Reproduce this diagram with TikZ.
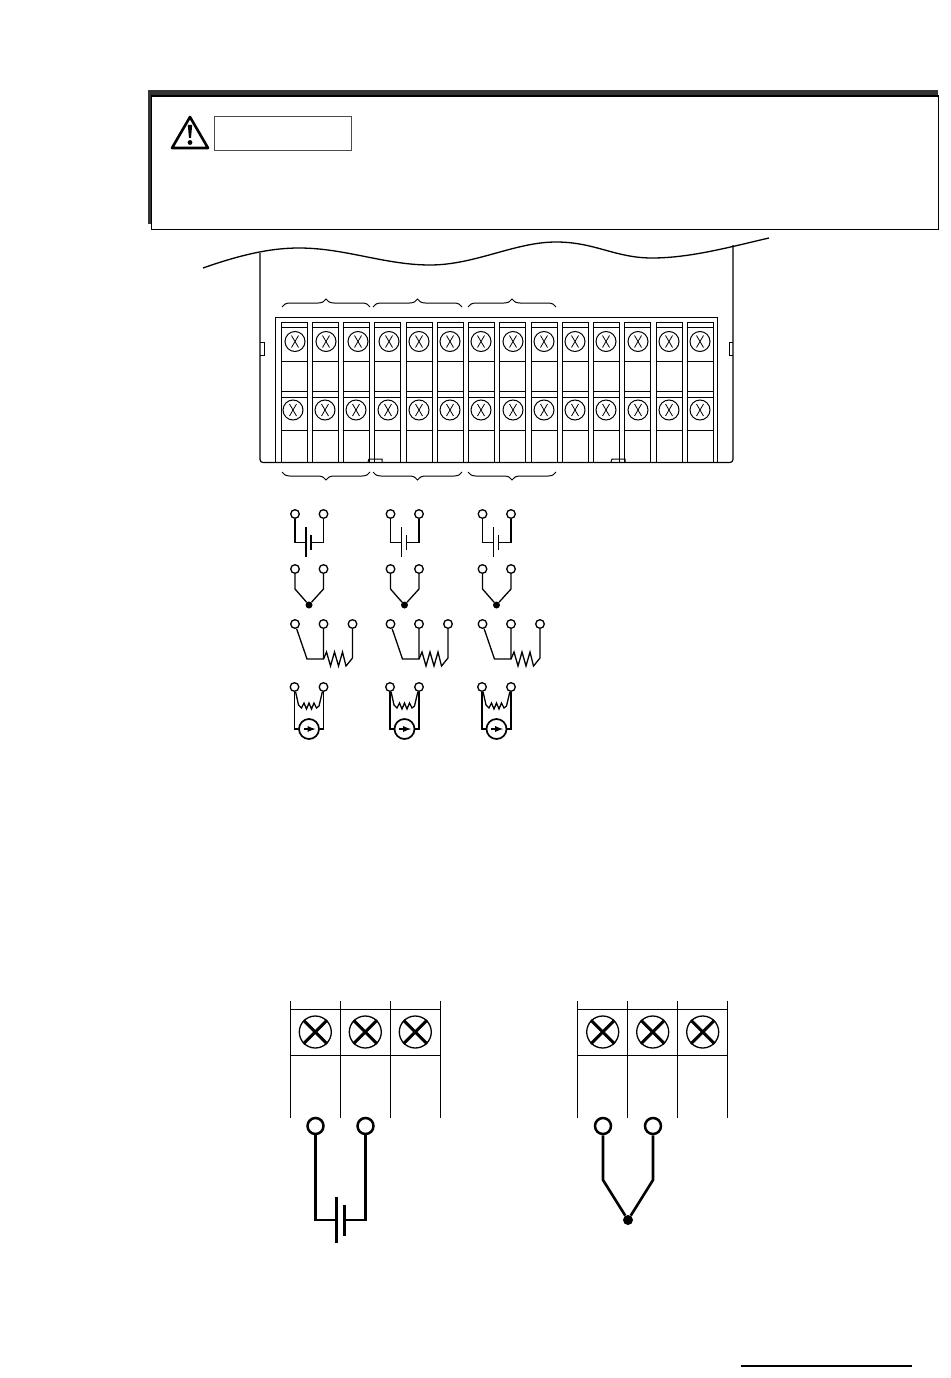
\documentclass[tikz,border=0pt]{standalone}
\usetikzlibrary{calc}
\usetikzlibrary{decorations.pathreplacing}
\usetikzlibrary{arrows}
\tikzset{
    ringsm/.style={circle, draw, line width=1.3pt, minimum size=8.6pt, inner sep=0pt, fill=white},
    ringbig/.style={circle, draw, line width=2.5pt, minimum size=16pt, inner sep=0pt, fill=white},
    screwsm/.style={circle, draw, line width=1pt, minimum size=20pt, inner sep=0pt},
    screwbig/.style={circle, draw, line width=1.3pt, minimum size=32pt, inner sep=0pt},
    wire/.style={line width=1.3pt},
    wirebig/.style={line width=2.6pt},
    termline/.style={line width=1pt},
    bracket/.style={decorate, decoration={brace, amplitude=8pt}, line width=1pt}
}
\begin{document}
\begin{tikzpicture}[x=1pt, y=-1pt]
    \useasboundingbox (0,0) rectangle (950,1378);
    % caution box
    \fill[black!80] (148,90) rectangle (938,95);
    \fill[black!80] (148,90) rectangle (151,224);
    \node[draw, line width=1.2pt, fill=white, minimum width=787pt, minimum height=133pt,
        inner sep=0pt, anchor=north west] (cautionbox) at (151,95.5) {};
    \node[draw=black!70, line width=1.2pt, minimum width=137pt, minimum height=34pt,
        inner sep=0pt, anchor=north west] (cautionlabel) at (214,116) {};
    \coordinate (tritop) at (190,117);
    \draw[line width=2.6pt, line join=round] (tritop) -- (172,148) -- (208,148) -- cycle;
    \fill (187.8,125) -- (192.2,125) -- (191,138) -- (189,138) -- cycle;
    \fill (190,142.5) circle (2.4pt);
    % housing
    \draw[line width=1.3pt] (203,268) .. controls (240,255) and (270,248) .. (299,248)
        .. controls (345,248) and (385,265) .. (430,265)
        .. controls (475,265) and (515,242) .. (556,242)
        .. controls (595,242) and (615,258) .. (652,258)
        .. controls (690,258) and (730,247) .. (769,238);
    \draw[line width=1.2pt, rounded corners=3pt] (260,253) -- (260,462.5) -- (733,462.5) -- (733,245);
    \draw[line width=1pt] (260,342) -- (264,342) -- (264,355) -- (260,355);
    \draw[line width=1pt] (733,342) -- (729,342) -- (729,355) -- (733,355);
    \draw[line width=1pt] (368,462) -- (369,459) -- (382,459) -- (382,462);
    \draw[line width=1pt] (611,462) -- (612,459) -- (625,459) -- (625,462);
    \draw[line width=1.2pt] (275.5,462) -- (275.5,317.5) -- (717.5,317.5) -- (717.5,462);
    % terminals
    \foreach \i in {0,...,13} {
        \pgfmathsetmacro{\xl}{281+31.25*\i}
        \pgfmathsetmacro{\xr}{\xl+26}
        \draw[termline] (\xl,462) -- (\xl,322) -- (\xr,322) -- (\xr,462);
        \draw[termline] (\xl,327) -- (\xr,327);
        \draw[termline] (\xl,361) -- (\xr,361);
        \draw[termline] (\xl,391) -- (\xr,391);
        \draw[termline] (\xl,397) -- (\xr,397);
        \draw[termline] (\xl,430) -- (\xr,430);
    }
    \foreach \n/\xa/\xb in {1/295/293, 2/326/325, 3/358/356, 4/389/388, 5/419/419, 6/450/450, 7/481/481,
        8/513/513, 9/544/544, 10/575/575, 11/606/606, 12/638/638, 13/669/669, 14/700/700} {
        \node[screwsm] (top\n) at (\xa,341.5) {};
        \node[screwsm] (bot\n) at (\xb,410) {};
        \draw[line width=.8pt] ($(top\n)+(-3.5,-6)$) -- ($(top\n)+(3.5,6)$);
        \draw[line width=.8pt] ($(top\n)+(3.5,-6)$) -- ($(top\n)+(-3.5,6)$);
        \draw[line width=.8pt] ($(bot\n)+(-3.5,-6)$) -- ($(bot\n)+(3.5,6)$);
        \draw[line width=.8pt] ($(bot\n)+(3.5,-6)$) -- ($(bot\n)+(-3.5,6)$);
    }
    % braces
    \foreach \xa/\xb in {282/370, 373/462, 468/556} {
        \draw[bracket] (\xa,307) -- (\xb,307);
        \draw[bracket] (\xb,472) -- (\xa,472);
    }
    % small input symbols
    \foreach \g/\o in {a/0, b/95.5, c/187.5} {
        % voltage
        \node[ringsm] (v\g1) at (295+\o,514) {};
        \node[ringsm] (v\g2) at (323.5+\o,514) {};
        \coordinate (vp\g) at (306+\o,542.5);
        \coordinate (vq\g) at (311+\o,542.5);
        \draw[wire] (v\g1) |- (vp\g);
        \draw[wire] (v\g2) |- (vq\g);
        \draw[wire] ($(vp\g)+(0,-15.5)$) -- ($(vp\g)+(0,14.5)$);
        \draw[wire] ($(vq\g)+(0,-8)$) -- ($(vq\g)+(0,7)$);
        % thermocouple
        \node[ringsm] (t\g1) at (295+\o,569) {};
        \node[ringsm] (t\g2) at (323.5+\o,569) {};
        \node[circle, fill, minimum size=7pt, inner sep=0pt] (t\g3) at (309+\o,605) {};
        \draw[wire] (t\g1) -- (295+\o,589) -- (t\g3);
        \draw[wire] (t\g2) -- (323.5+\o,589) -- (t\g3);
        % rtd
        \node[ringsm] (r\g1) at (295+\o,624) {};
        \node[ringsm] (r\g2) at (323.5+\o,624) {};
        \node[ringsm] (r\g3) at (352.5+\o,624) {};
        \coordinate (rj\g) at (323.5+\o,659);
        \draw[wire] (r\g1) -- (307+\o,659) -- (rj\g) -- (r\g2);
        \draw[wire] (rj\g) -- ++(3,-7) -- ++(4,14) -- ++(4,-14) -- ++(4,14) -- ++(4,-14)
            -- ++(3.5,14) -- (352.5+\o,658) -- (r\g3);
        % current
        \node[ringsm] (c\g1) at (294.5+\o,687) {};
        \node[ringsm] (c\g2) at (323.5+\o,687) {};
        \node[circle, draw, line width=1.7pt, minimum size=20pt, inner sep=0pt] (c\g3) at (309+\o,729) {};
        \draw[wire] (c\g1) -- (294.5+\o,729) -- (c\g3);
        \draw[wire] (c\g2) -- (323.5+\o,729) -- (c\g3);
        \draw[wire] (c\g1) -- (298.5+\o,705) -- ++(3,3) -- ++(2.5,-5) -- ++(2.5,6) -- ++(2.5,-6)
            -- ++(2.5,6) -- ++(2.5,-6) -- ++(2.5,5) -- (319+\o,706) -- (c\g2);
        \draw[line width=1.7pt, -latex] ($(c\g3)+(-5.5,0)$) -- ($(c\g3)+(6.5,0)$);
    }
    % enlarged terminals
    \foreach \g/\o in {l/0.3, m/287.7} {
        \foreach \i in {0,1,2,3} {
            \draw[line width=1pt] (290+\o+50*\i,1001) -- (290+\o+50*\i,1118);
        }
        \draw[line width=1pt] (290+\o,1009.5) -- (440+\o,1009.5);
        \draw[line width=1pt] (290+\o,1055) -- (440+\o,1055);
        \foreach \i in {1,2,3} {
            \node[screwbig] (s\g\i) at (315+\o+50*\i-50,1032) {};
            \draw[line width=3pt] (s\g\i.45) -- (s\g\i.225);
            \draw[line width=3pt] (s\g\i.135) -- (s\g\i.315);
        }
    }
    % battery connection
    \node[ringbig] (bat1) at (315.5,1126) {};
    \node[ringbig] (bat2) at (365.5,1126) {};
    \coordinate (batp) at (336.5,1220);
    \coordinate (batq) at (344.5,1220);
    \draw[wirebig] (bat1) |- (batp);
    \draw[wirebig] (bat2) |- (batq);
    \draw[wirebig] ($(batp)+(0,-23)$) -- ($(batp)+(0,23)$);
    \draw[wirebig] ($(batq)+(0,-15)$) -- ($(batq)+(0,16)$);
    % thermocouple connection
    \node[ringbig] (tc1) at (603,1126) {};
    \node[ringbig] (tc2) at (653,1126) {};
    \node[circle, fill, minimum size=10pt, inner sep=0pt] (tcj) at (628,1220) {};
    \draw[wirebig] (tc1) -- (603,1180) -- (tcj);
    \draw[wirebig] (tc2) -- (653,1180) -- (tcj);
    % footer rule
    \draw[line width=1.5pt] (741,1366) -- (912,1366);
\end{tikzpicture}
\end{document}
